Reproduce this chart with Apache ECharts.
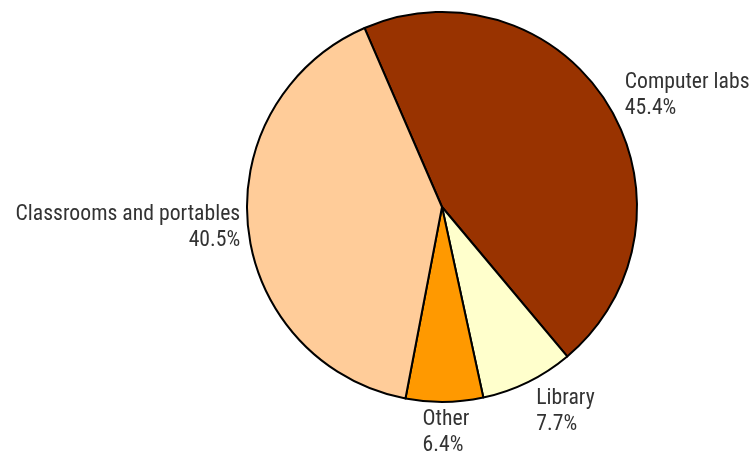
<!DOCTYPE html>
<html><head><meta charset="utf-8">
<script src="https://cdn.jsdelivr.net/npm/echarts@6/dist/echarts.min.js"></script>
<style>html,body{margin:0;padding:0;background:#fff}#c{width:752px;height:456px}</style>
</head><body><div id="c"></div>
<script>
const categories = ["Computer labs", "Library", "Other", "Classrooms and portables"];
const values = [45.4, 7.7, 6.4, 40.5];
const colors = ["#993300", "#FFFFCC", "#FF9900", "#FFCC99"];

// small label nudges (layout only)
const labelShift = [[5, -5], [0, 22], [-27, 23], [5, -2]];

const chart = echarts.init(document.getElementById('c'));
chart.setOption({
  animation: false,
  series: [{
    type: 'pie',
    center: [442, 207],
    radius: 195,
    startAngle: 113.4,
    clockwise: true,
    avoidLabelOverlap: false,
    data: categories.map((n, i) => ({ name: n, value: values[i], itemStyle: { color: colors[i] } })),
    itemStyle: { borderColor: '#000', borderWidth: 2 },
    label: {
      show: true,
      position: 'outside',
      formatter: p => p.name + '\n' + p.value.toFixed(1) + '%',
      fontFamily: '"Liberation Sans Narrow", "Roboto Condensed", Roboto, sans-serif',
      fontSize: 21.7,
      lineHeight: 26,
      color: '#333'
    },
    labelLine: { show: false, length: 8, length2: 0 },
    labelLayout: p => ({ dx: labelShift[p.dataIndex][0], dy: labelShift[p.dataIndex][1] }),
    emphasis: { disabled: true }
  }]
});
</script></body></html>
